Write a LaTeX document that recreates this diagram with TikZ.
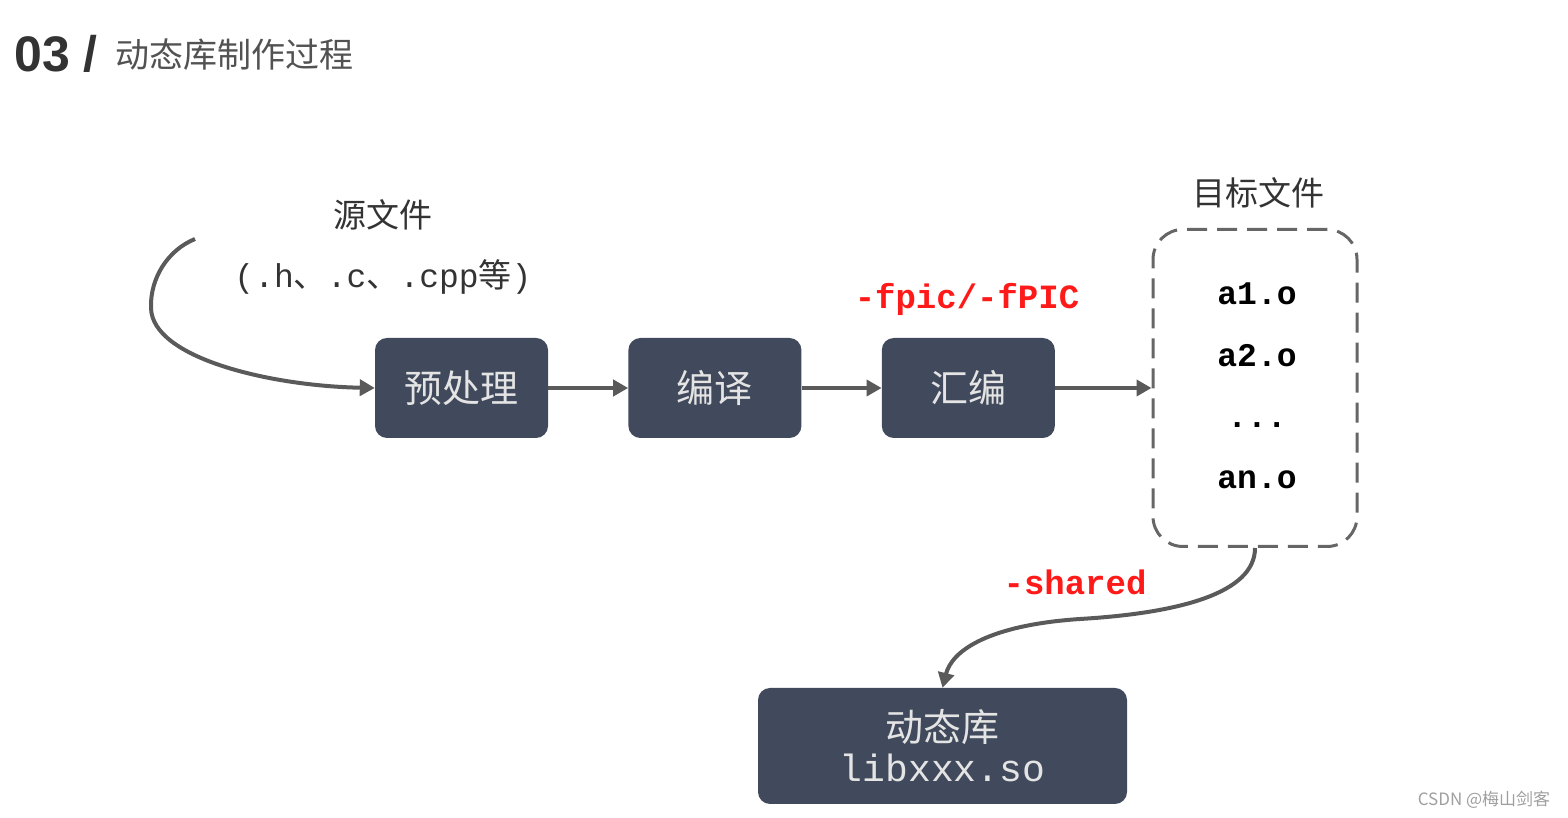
\documentclass[tikz,border=0pt]{standalone}
\usepackage{fontspec}
\setsansfont{Liberation Sans}
\setmonofont{Liberation Mono}
\newfontfamily\cjk{Noto Sans CJK SC}
\usepackage{xcolor}
\usetikzlibrary{positioning, arrows.meta, calc}
\definecolor{diagbox}{HTML}{414A5C}
\definecolor{diagline}{HTML}{5A5A5A}
\definecolor{diagdash}{HTML}{666666}
\definecolor{diagred}{HTML}{FF1A1A}
\definecolor{diagtext}{HTML}{333333}
\definecolor{diagsoft}{HTML}{E4E4E4}

\begin{document}
\begin{tikzpicture}[x=1pt, y=1pt,
  st/.style={fill=diagbox, rounded corners=12pt, minimum width=173pt, minimum height=100pt,
    text=diagsoft, font=\cjk\fontsize{38}{44}\selectfont},
  arr/.style={-{Triangle[length=15pt,width=16pt]}, line width=4pt, draw=diagline},
  opt/.style={text=diagred, inner sep=0pt, font=\ttfamily\bfseries\fontsize{34}{40}\selectfont},
  obj/.style={text=black, inner sep=0pt, font=\ttfamily\bfseries\fontsize{33}{40}\selectfont},
  lbl/.style={text=diagtext, inner sep=0pt, font=\cjk\fontsize{33}{40}\selectfont}]
\useasboundingbox (0,0) rectangle (1568,818);

% title
\node[anchor=base west, inner sep=0pt, text=diagtext, font=\sffamily\bfseries\fontsize{50}{60}\selectfont](num) at (14,746) {03 /};
\node[anchor=west, inner sep=0pt, text=diagtext!85, font=\cjk\fontsize{34}{40}\selectfont](ttl) at (115,763) {动态库制作过程};

% source files
\node[lbl](srclbl) at (383,603) {源文件};
\node[lbl, font=\fontsize{33}{40}\selectfont](srcext) at (383,541)
  {{\ttfamily(.h}{\cjk 、}{\ttfamily.c}{\cjk 、}{\ttfamily.cpp}{\cjk 等}{\ttfamily)}};
\coordinate (src) at (195,579);

% pipeline
\node[st](pre) at (461.5,430) {预处理};
\node[st, right=80pt of pre](comp) {编译};
\node[st, right=80pt of comp](asm) {汇编};
\node[opt](pic) at (967,519) {-fpic/-fPIC};

% object files
\node[draw=diagdash, line width=3pt, dash pattern=on 20pt off 10pt, rounded corners=30pt,
  minimum width=204pt, minimum height=317pt](objs) at (1255,430) {};
\node[lbl](objlbl) at (1258,625) {目标文件};
\node[obj](a1) at (1257,524) {a1.o};
\node[obj](a2) at (1257,462) {a2.o};
\node[obj](dots) at (1257,393) {...};
\node[obj](an) at (1257,338) {an.o};

% shared library
\node[opt](shr) at (1075,236) {-shared};
\node[st, minimum width=369pt, minimum height=116pt, align=center](lib) at (942.5,72)
  {{\fontsize{38}{46}\selectfont 动态库}\\[-4pt]{\ttfamily\fontsize{38}{46}\selectfont libxxx.so}};

\draw[arr](src) .. controls (168,568) and (150,540) .. (151,510)
  .. controls (152,460) and (270,432) .. (pre.west);
\foreach \frm/\tto in {pre/comp, comp/asm, asm/objs}
  {\draw[arr](\frm.east)--(\tto.west);}
\draw[arr](objs.south) .. controls (1255,225) and (1180,205) .. (1080,199)
  .. controls (990,193) and (952,168) .. (lib.north);

\node[inner sep=0pt, text=gray!75, font=\cjk\fontsize{17}{20}\selectfont](mark) at (1484,18) {CSDN @梅山剑客};
\end{tikzpicture}
\end{document}
